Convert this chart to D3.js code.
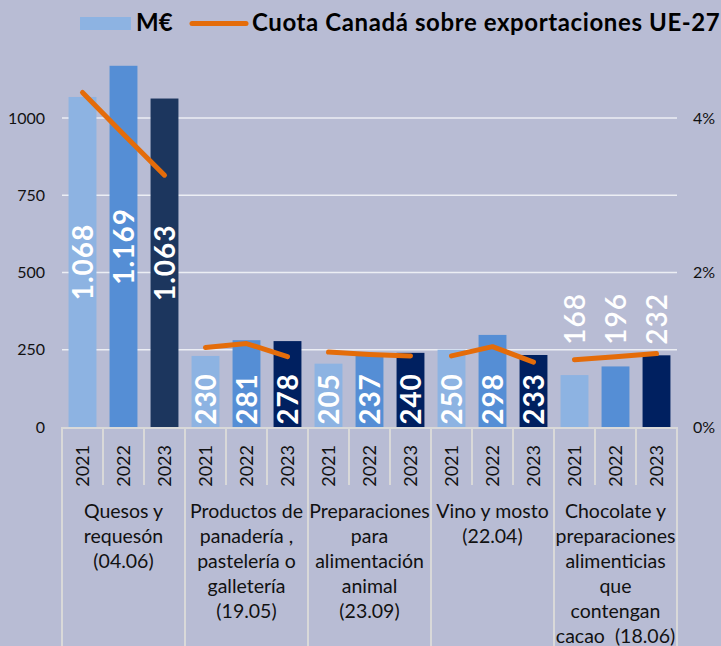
<!DOCTYPE html>
<html>
<head>
<meta charset="utf-8">
<script src="https://cdn.jsdelivr.net/npm/d3@7"></script>
<style>
  body { margin: 0; background: #b8bcd4; }
  svg { display: block; font-family: Lato, "Open Sans", sans-serif; }
</style>
</head>
<body>
<div id="chart"></div>
<script>
// categories (each label split into lines) and years
const categories = [
    ["Quesos y", "requesón", "(04.06)"],
    ["Productos de", "panadería ,", "pastelería o", "galletería", "(19.05)"],
    ["Preparaciones", "para", "alimentación", "animal", "(23.09)"],
    ["Vino y mosto", "(22.04)"],
    ["Chocolate y", "preparaciones", "alimenticias", "que", "contengan", "cacao  (18.06)"]
];
const years = ["2021", "2022", "2023"];

// M€ per category, per year
const values = [
    [1068, 1169, 1063],
    [230, 281, 278],
    [205, 237, 240],
    [250, 298, 233],
    [168, 196, 232]
];

// Cuota Canadá sobre exportaciones UE-27 (%)
const shares = [
    [4.33, 3.79, 3.26],
    [1.03, 1.08, 0.91],
    [0.97, 0.94, 0.92],
    [0.92, 1.04, 0.84],
    [0.87, 0.91, 0.95]
];

const leftTicks = [0, 250, 500, 750, 1000];
const rightTicks = [0, 2, 4];

const width = 721, height = 646;
const margin = { top: 40, right: 44, bottom: 219, left: 62 };
const x0Axis = height - margin.bottom; // y of the zero line

const barColors = ["#8db3e2", "#558ed5", "#002060"];
const firstDark = "#1c365e";
const lineColor = "#e46c0a";
const gridColor = "#eceef4";
const sepColor = "#d9d9d9";

const es = d3.formatLocale({ decimal: ",", thousands: ".", grouping: [3], currency: ["", " €"] });
const fmt = es.format(",d");

const svg = d3.select("#chart").append("svg")
    .attr("width", width)
    .attr("height", height);

svg.append("rect").attr("width", width).attr("height", height).attr("fill", "#b8bcd4");

const catIdx = d3.range(categories.length);
const x = d3.scaleBand()
    .domain(catIdx)
    .range([margin.left, width - margin.right]);

const xi = d3.scaleBand()
    .domain(years)
    .range([0, x.bandwidth()])
    .paddingInner(0.32)
    .paddingOuter(0.16);

const y = d3.scaleLinear()
    .domain([0, 1000])
    .range([x0Axis, 118]);

const y2 = d3.scaleLinear()
    .domain([0, 4])
    .range([x0Axis, 118]);

// gridlines
svg.append("g")
    .selectAll("line")
    .data(leftTicks.filter(d => d > 0))
    .join("line")
    .attr("x1", margin.left)
    .attr("x2", width - margin.right)
    .attr("y1", d => y(d))
    .attr("y2", d => y(d))
    .attr("stroke", gridColor)
    .attr("stroke-width", 1.5);

// left axis
svg.append("g")
    .attr("transform", `translate(${margin.left},0)`)
    .call(d3.axisLeft(y).tickValues(leftTicks).tickSize(0).tickPadding(17).tickFormat(d3.format("d")))
    .call(g => g.select(".domain").remove())
    .call(g => g.selectAll("text").attr("font-size", 16).attr("fill", "#111").attr("font-family", "Lato, sans-serif"));

// right axis
svg.append("g")
    .attr("transform", `translate(${width - margin.right},0)`)
    .call(d3.axisRight(y2).tickValues(rightTicks).tickSize(0).tickPadding(16).tickFormat(d => d + "%"))
    .call(g => g.select(".domain").remove())
    .call(g => g.selectAll("text").attr("font-size", 16).attr("fill", "#111").attr("font-family", "Lato, sans-serif"));

// category axis: zero line, year ticks, category separators
const axisG = svg.append("g");
axisG.append("line")
    .attr("x1", margin.left).attr("x2", width - margin.right)
    .attr("y1", x0Axis + 1).attr("y2", x0Axis + 1)
    .attr("stroke", sepColor).attr("stroke-width", 2);

catIdx.forEach(c => {
    years.forEach((yr, j) => {
        if (j > 0) {
            axisG.append("line")
                .attr("x1", x(c) + xi.step() * j).attr("x2", x(c) + xi.step() * j)
                .attr("y1", x0Axis).attr("y2", x0Axis + 58)
                .attr("stroke", sepColor).attr("stroke-width", 2);
        }
    });
});
catIdx.concat([categories.length]).forEach(c => {
    const xx = c < categories.length ? x(c) : width - margin.right;
    axisG.append("line")
        .attr("x1", xx).attr("x2", xx)
        .attr("y1", x0Axis).attr("y2", height)
        .attr("stroke", sepColor).attr("stroke-width", 2);
});

// bars
const groups = svg.append("g")
    .selectAll("g")
    .data(catIdx)
    .join("g")
    .attr("transform", c => `translate(${x(c)},0)`);

groups.selectAll("rect")
    .data(c => values[c].map((v, j) => ({ c, j, v })))
    .join("rect")
    .attr("x", d => xi(years[d.j]))
    .attr("y", d => y(d.v))
    .attr("width", xi.bandwidth())
    .attr("height", d => y(0) - y(d.v))
    .attr("fill", d => (d.c === 0 && d.j === 2) ? firstDark : barColors[d.j]);

// year labels
groups.selectAll("text.year")
    .data(c => years.map(yr => ({ c, yr })))
    .join("text")
    .attr("class", "year")
    .attr("transform", d => `translate(${xi(d.yr) + xi.bandwidth() / 2},${x0Axis + 18}) rotate(-90)`)
    .attr("text-anchor", "end")
    .attr("dy", "0.36em")
    .attr("font-size", 18)
    .attr("fill", "#111")
    .text(d => d.yr);

// value labels (rotated, white)
const lastCat = categories.length - 1;
groups.selectAll("text.val")
    .data(c => values[c].map((v, j) => ({ c, j, v })))
    .join("text")
    .attr("class", "val")
    .attr("transform", function (d) {
        const cx = xi(years[d.j]) + xi.bandwidth() / 2;
        let cy;
        if (d.c === lastCat) cy = y(272) - 24;       // above the short bars
        else if (d.v < 500) cy = y(0) - 28;          // sits on the base
        else cy = (y(d.v) + y(0)) / 2;               // centred in the bar
        return `translate(${cx},${cy}) rotate(-90)`;
    })
    .attr("text-anchor", "middle")
    .attr("dy", "0.36em")
    .attr("font-size", 28)
    .attr("font-weight", d => d.c === lastCat ? 600 : 700)
    .attr("letter-spacing", 1)
    .attr("fill", "#fff")
    .text(d => fmt(d.v));

// share line, one segment per category
const line = d3.line()
    .x(d => xi(years[d.j]) + xi.bandwidth() / 2)
    .y(d => y2(d.s));

groups.append("path")
    .datum(c => shares[c].map((s, j) => ({ j, s })))
    .attr("d", line)
    .attr("fill", "none")
    .attr("stroke", lineColor)
    .attr("stroke-width", 5)
    .attr("stroke-linecap", "round")
    .attr("stroke-linejoin", "round");

// category labels
groups.append("text")
    .attr("text-anchor", "middle")
    .attr("font-size", 19.5)
    .attr("fill", "#111")
    .style("white-space", "pre")
    .selectAll("tspan")
    .data(c => categories[c])
    .join("tspan")
    .attr("x", x.bandwidth() / 2)
    .attr("y", (d, i) => 518 + i * 25)
    .text(d => d);

// legend
const legend = svg.append("g");
legend.append("rect")
    .attr("x", 80).attr("y", 17).attr("width", 51).attr("height", 13)
    .attr("fill", barColors[0]);
legend.append("text")
    .attr("x", 136).attr("y", 31)
    .attr("font-size", 24).attr("font-weight", 700).attr("fill", "#000")
    .text("M€");
legend.append("line")
    .attr("x1", 192).attr("x2", 246).attr("y1", 23.5).attr("y2", 23.5)
    .attr("stroke", lineColor).attr("stroke-width", 5).attr("stroke-linecap", "round");
legend.append("text")
    .attr("x", 252).attr("y", 31)
    .attr("font-size", 24).attr("font-weight", 700).attr("fill", "#000")
    .attr("letter-spacing", 0.6)
    .text("Cuota Canadá sobre exportaciones UE-27");
</script>
</body>
</html>
